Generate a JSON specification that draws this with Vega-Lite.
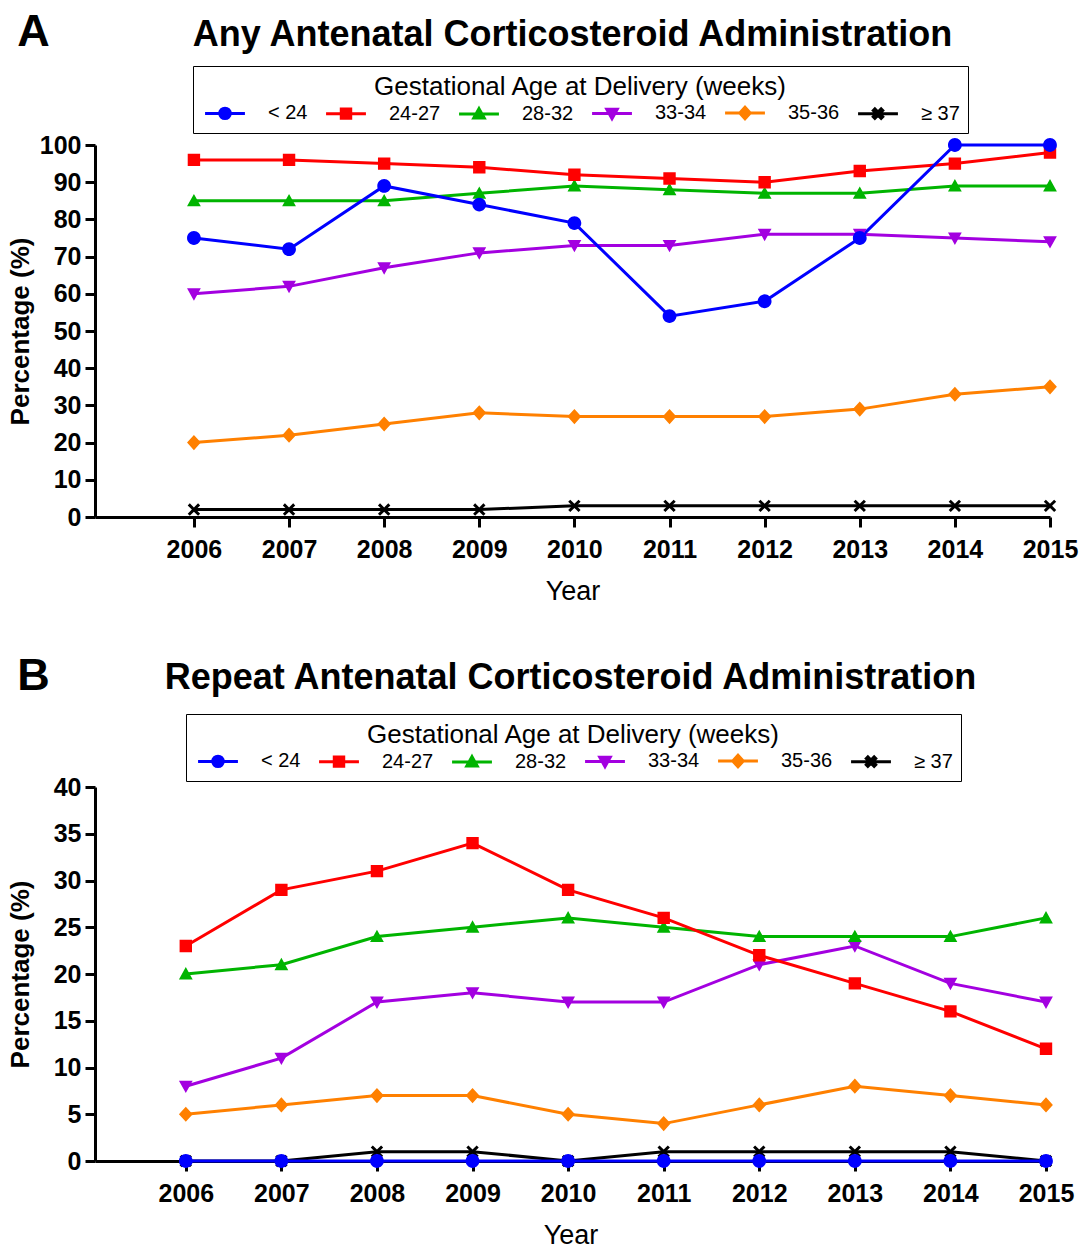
{
  "$schema": "https://vega.github.io/schema/vega-lite/v6.json",
  "padding": {"left": 7, "top": 9, "right": 5, "bottom": 2},
  "background": "white",
  "config": {
    "font": "Liberation Sans",
    "view": {"stroke": null},
    "title": {"color": "black"},
    "axis": {"domainColor": "black", "domainWidth": 3, "tickColor": "black", "tickWidth": 3, "tickSize": 10, "labelColor": "black", "labelFontWeight": "bold", "labelFontSize": 25, "labelFlush": false, "labelOverlap": false, "titleColor": "black", "titleFontSize": 26, "grid": false},
    "axisX": {"labelPadding": 10, "titleFontWeight": "normal", "titleFontSize": 27, "titlePadding": 16},
    "axisY": {"labelPadding": 4, "titleFontWeight": "bold", "titlePadding": 6},
    "legend": {"orient": "none", "direction": "horizontal", "titleAnchor": "middle", "titleFontSize": 26, "titleFontWeight": "normal", "titleColor": "black", "titlePadding": 3, "titleLimit": 900, "labelFontSize": 20, "labelColor": "black", "labelOffset": 33, "symbolOffset": 14, "symbolSize": 110, "symbolStrokeWidth": 3, "columnPadding": 12, "padding": 8, "strokeColor": "black", "fillColor": "white"}
  },
  "datasets": {
    "any": [
      {"year": 2006, "group": "≥ 37", "pct": 2}, {"year": 2007, "group": "≥ 37", "pct": 2}, {"year": 2008, "group": "≥ 37", "pct": 2}, {"year": 2009, "group": "≥ 37", "pct": 2}, {"year": 2010, "group": "≥ 37", "pct": 3}, {"year": 2011, "group": "≥ 37", "pct": 3}, {"year": 2012, "group": "≥ 37", "pct": 3}, {"year": 2013, "group": "≥ 37", "pct": 3}, {"year": 2014, "group": "≥ 37", "pct": 3}, {"year": 2015, "group": "≥ 37", "pct": 3},
      {"year": 2006, "group": "35-36", "pct": 20}, {"year": 2007, "group": "35-36", "pct": 22}, {"year": 2008, "group": "35-36", "pct": 25}, {"year": 2009, "group": "35-36", "pct": 28}, {"year": 2010, "group": "35-36", "pct": 27}, {"year": 2011, "group": "35-36", "pct": 27}, {"year": 2012, "group": "35-36", "pct": 27}, {"year": 2013, "group": "35-36", "pct": 29}, {"year": 2014, "group": "35-36", "pct": 33}, {"year": 2015, "group": "35-36", "pct": 35},
      {"year": 2006, "group": "33-34", "pct": 60}, {"year": 2007, "group": "33-34", "pct": 62}, {"year": 2008, "group": "33-34", "pct": 67}, {"year": 2009, "group": "33-34", "pct": 71}, {"year": 2010, "group": "33-34", "pct": 73}, {"year": 2011, "group": "33-34", "pct": 73}, {"year": 2012, "group": "33-34", "pct": 76}, {"year": 2013, "group": "33-34", "pct": 76}, {"year": 2014, "group": "33-34", "pct": 75}, {"year": 2015, "group": "33-34", "pct": 74},
      {"year": 2006, "group": "28-32", "pct": 85}, {"year": 2007, "group": "28-32", "pct": 85}, {"year": 2008, "group": "28-32", "pct": 85}, {"year": 2009, "group": "28-32", "pct": 87}, {"year": 2010, "group": "28-32", "pct": 89}, {"year": 2011, "group": "28-32", "pct": 88}, {"year": 2012, "group": "28-32", "pct": 87}, {"year": 2013, "group": "28-32", "pct": 87}, {"year": 2014, "group": "28-32", "pct": 89}, {"year": 2015, "group": "28-32", "pct": 89},
      {"year": 2006, "group": "24-27", "pct": 96}, {"year": 2007, "group": "24-27", "pct": 96}, {"year": 2008, "group": "24-27", "pct": 95}, {"year": 2009, "group": "24-27", "pct": 94}, {"year": 2010, "group": "24-27", "pct": 92}, {"year": 2011, "group": "24-27", "pct": 91}, {"year": 2012, "group": "24-27", "pct": 90}, {"year": 2013, "group": "24-27", "pct": 93}, {"year": 2014, "group": "24-27", "pct": 95}, {"year": 2015, "group": "24-27", "pct": 98},
      {"year": 2006, "group": "< 24", "pct": 75}, {"year": 2007, "group": "< 24", "pct": 72}, {"year": 2008, "group": "< 24", "pct": 89}, {"year": 2009, "group": "< 24", "pct": 84}, {"year": 2010, "group": "< 24", "pct": 79}, {"year": 2011, "group": "< 24", "pct": 54}, {"year": 2012, "group": "< 24", "pct": 58}, {"year": 2013, "group": "< 24", "pct": 75}, {"year": 2014, "group": "< 24", "pct": 100}, {"year": 2015, "group": "< 24", "pct": 100}
    ],
    "repeat": [
      {"year": 2006, "group": "≥ 37", "pct": 0}, {"year": 2007, "group": "≥ 37", "pct": 0}, {"year": 2008, "group": "≥ 37", "pct": 1}, {"year": 2009, "group": "≥ 37", "pct": 1}, {"year": 2010, "group": "≥ 37", "pct": 0}, {"year": 2011, "group": "≥ 37", "pct": 1}, {"year": 2012, "group": "≥ 37", "pct": 1}, {"year": 2013, "group": "≥ 37", "pct": 1}, {"year": 2014, "group": "≥ 37", "pct": 1}, {"year": 2015, "group": "≥ 37", "pct": 0},
      {"year": 2006, "group": "35-36", "pct": 5}, {"year": 2007, "group": "35-36", "pct": 6}, {"year": 2008, "group": "35-36", "pct": 7}, {"year": 2009, "group": "35-36", "pct": 7}, {"year": 2010, "group": "35-36", "pct": 5}, {"year": 2011, "group": "35-36", "pct": 4}, {"year": 2012, "group": "35-36", "pct": 6}, {"year": 2013, "group": "35-36", "pct": 8}, {"year": 2014, "group": "35-36", "pct": 7}, {"year": 2015, "group": "35-36", "pct": 6},
      {"year": 2006, "group": "33-34", "pct": 8}, {"year": 2007, "group": "33-34", "pct": 11}, {"year": 2008, "group": "33-34", "pct": 17}, {"year": 2009, "group": "33-34", "pct": 18}, {"year": 2010, "group": "33-34", "pct": 17}, {"year": 2011, "group": "33-34", "pct": 17}, {"year": 2012, "group": "33-34", "pct": 21}, {"year": 2013, "group": "33-34", "pct": 23}, {"year": 2014, "group": "33-34", "pct": 19}, {"year": 2015, "group": "33-34", "pct": 17},
      {"year": 2006, "group": "28-32", "pct": 20}, {"year": 2007, "group": "28-32", "pct": 21}, {"year": 2008, "group": "28-32", "pct": 24}, {"year": 2009, "group": "28-32", "pct": 25}, {"year": 2010, "group": "28-32", "pct": 26}, {"year": 2011, "group": "28-32", "pct": 25}, {"year": 2012, "group": "28-32", "pct": 24}, {"year": 2013, "group": "28-32", "pct": 24}, {"year": 2014, "group": "28-32", "pct": 24}, {"year": 2015, "group": "28-32", "pct": 26},
      {"year": 2006, "group": "24-27", "pct": 23}, {"year": 2007, "group": "24-27", "pct": 29}, {"year": 2008, "group": "24-27", "pct": 31}, {"year": 2009, "group": "24-27", "pct": 34}, {"year": 2010, "group": "24-27", "pct": 29}, {"year": 2011, "group": "24-27", "pct": 26}, {"year": 2012, "group": "24-27", "pct": 22}, {"year": 2013, "group": "24-27", "pct": 19}, {"year": 2014, "group": "24-27", "pct": 16}, {"year": 2015, "group": "24-27", "pct": 12},
      {"year": 2006, "group": "< 24", "pct": 0}, {"year": 2007, "group": "< 24", "pct": 0}, {"year": 2008, "group": "< 24", "pct": 0}, {"year": 2009, "group": "< 24", "pct": 0}, {"year": 2010, "group": "< 24", "pct": 0}, {"year": 2011, "group": "< 24", "pct": 0}, {"year": 2012, "group": "< 24", "pct": 0}, {"year": 2013, "group": "< 24", "pct": 0}, {"year": 2014, "group": "< 24", "pct": 0}, {"year": 2015, "group": "< 24", "pct": 0}
    ]
  },
  "spacing": 49,
  "resolve": {"scale": {"fill": "independent", "stroke": "independent", "shape": "independent"}, "legend": {"fill": "independent", "stroke": "independent", "shape": "independent"}},
  "vconcat": [
    {
      "title": {"text": "A", "anchor": "start", "fontSize": 45, "fontWeight": "bold", "baseline": "alphabetic", "offset": 0, "dx": 10, "dy": 74},
      "resolve": {"scale": {"fill": "independent", "stroke": "independent", "shape": "independent"}, "legend": {"fill": "independent", "stroke": "independent", "shape": "independent"}},
      "vconcat": [
        {
          "title": {"text": "Any Antenatal Corticosteroid Administration", "fontSize": 36, "fontWeight": "bold", "anchor": "middle", "frame": "group", "baseline": "alphabetic", "offset": -16},
          "width": 955,
          "height": 372,
          "data": {"name": "any"},
          "encoding": {
            "x": {"field": "year", "type": "quantitative", "scale": {"domain": [2004.96, 2015], "nice": false, "zero": false}, "axis": {"title": "Year", "values": [2006, 2007, 2008, 2009, 2010, 2011, 2012, 2013, 2014, 2015], "format": "d", "labelOverlap": false}},
            "y": {"field": "pct", "type": "quantitative", "scale": {"domain": [0, 100], "nice": false}, "axis": {"title": "Percentage (%)", "values": [0, 10, 20, 30, 40, 50, 60, 70, 80, 90, 100], "tickCount": 11, "labelOverlap": false}}
          },
          "layer": [
            {
              "mark": {"type": "line", "strokeWidth": 3},
              "encoding": {
                "stroke": {"field": "group", "type": "nominal", "sort": null, "scale": {"domain": ["< 24", "24-27", "28-32", "33-34", "35-36", "≥ 37"], "range": ["#0000FF", "#FF0000", "#00B400", "#A300E0", "#FF8000", "#000000"]},
                  "legend": {"title": "Gestational Age at Delivery (weeks)", "legendX": 98, "legendY": -79}},
                "detail": {"field": "group"}
              }
            },
            {
              "mark": {"type": "point", "filled": true, "opacity": 1, "size": 190},
              "encoding": {
                "fill": {"field": "group", "type": "nominal", "sort": null, "scale": {"domain": ["< 24", "24-27", "28-32", "33-34", "35-36", "≥ 37"], "range": ["#0000FF", "#FF0000", "#00B400", "#A300E0", "#FF8000", "#000000"]},
                  "legend": {"title": "Gestational Age at Delivery (weeks)", "legendX": 98, "legendY": -79}},
                "shape": {"field": "group", "type": "nominal", "sort": null, "scale": {"domain": ["< 24", "24-27", "28-32", "33-34", "35-36", "≥ 37"], "range": ["M-3.8,0H3.8M1,0A1,1,0,1,1,-1,0A1,1,0,1,1,1,0Z", "M-3.8,0H3.8M-0.9,-0.9H0.9V0.9H-0.9Z", "M-3.8,0H3.8M0,-1L1,0.8H-1Z", "M-3.8,0H3.8M-1,-0.8H1L0,1Z", "M-3.8,0H3.8M0,-1.1L1,0L0,1.1L-1,0Z", "M-3.8,0H3.8M-0.9,-0.6L-0.6,-0.9L0,-0.3L0.6,-0.9L0.9,-0.6L0.3,0L0.9,0.6L0.6,0.9L0,0.3L-0.6,0.9L-0.9,0.6L-0.3,0Z"]},
                  "legend": {"title": "Gestational Age at Delivery (weeks)", "legendX": 98, "legendY": -79}}
              }
            }
          ]
        }
      ]
    },
    {
      "title": {"text": "B", "anchor": "start", "fontSize": 45, "fontWeight": "bold", "baseline": "alphabetic", "offset": 0, "dx": 10, "dy": 75},
      "resolve": {"scale": {"fill": "independent", "stroke": "independent", "shape": "independent"}, "legend": {"fill": "independent", "stroke": "independent", "shape": "independent"}},
      "vconcat": [
        {
          "title": {"text": "Repeat Antenatal Corticosteroid Administration", "fontSize": 36, "fontWeight": "bold", "anchor": "middle", "frame": "group", "baseline": "alphabetic", "offset": -11},
          "width": 951,
          "height": 374,
          "data": {"name": "repeat"},
          "encoding": {
            "x": {"field": "year", "type": "quantitative", "scale": {"domain": [2005.05, 2015], "nice": false, "zero": false}, "axis": {"title": "Year", "values": [2006, 2007, 2008, 2009, 2010, 2011, 2012, 2013, 2014, 2015], "format": "d", "labelOverlap": false}},
            "y": {"field": "pct", "type": "quantitative", "scale": {"domain": [0, 40], "nice": false}, "axis": {"title": "Percentage (%)", "values": [0, 5, 10, 15, 20, 25, 30, 35, 40], "titlePadding": 20, "labelOverlap": false}}
          },
          "layer": [
            {
              "mark": {"type": "line", "strokeWidth": 3},
              "encoding": {
                "stroke": {"field": "group", "type": "nominal", "sort": null, "scale": {"domain": ["< 24", "24-27", "28-32", "33-34", "35-36", "≥ 37"], "range": ["#0000FF", "#FF0000", "#00B400", "#A300E0", "#FF8000", "#000000"]},
                  "legend": {"title": "Gestational Age at Delivery (weeks)", "legendX": 91, "legendY": -73}},
                "detail": {"field": "group"}
              }
            },
            {
              "mark": {"type": "point", "filled": true, "opacity": 1, "size": 190},
              "encoding": {
                "fill": {"field": "group", "type": "nominal", "sort": null, "scale": {"domain": ["< 24", "24-27", "28-32", "33-34", "35-36", "≥ 37"], "range": ["#0000FF", "#FF0000", "#00B400", "#A300E0", "#FF8000", "#000000"]},
                  "legend": {"title": "Gestational Age at Delivery (weeks)", "legendX": 91, "legendY": -73}},
                "shape": {"field": "group", "type": "nominal", "sort": null, "scale": {"domain": ["< 24", "24-27", "28-32", "33-34", "35-36", "≥ 37"], "range": ["M-3.8,0H3.8M1,0A1,1,0,1,1,-1,0A1,1,0,1,1,1,0Z", "M-3.8,0H3.8M-0.9,-0.9H0.9V0.9H-0.9Z", "M-3.8,0H3.8M0,-1L1,0.8H-1Z", "M-3.8,0H3.8M-1,-0.8H1L0,1Z", "M-3.8,0H3.8M0,-1.1L1,0L0,1.1L-1,0Z", "M-3.8,0H3.8M-0.9,-0.6L-0.6,-0.9L0,-0.3L0.6,-0.9L0.9,-0.6L0.3,0L0.9,0.6L0.6,0.9L0,0.3L-0.6,0.9L-0.9,0.6L-0.3,0Z"]},
                  "legend": {"title": "Gestational Age at Delivery (weeks)", "legendX": 91, "legendY": -73}}
              }
            }
          ]
        }
      ]
    }
  ]
}
